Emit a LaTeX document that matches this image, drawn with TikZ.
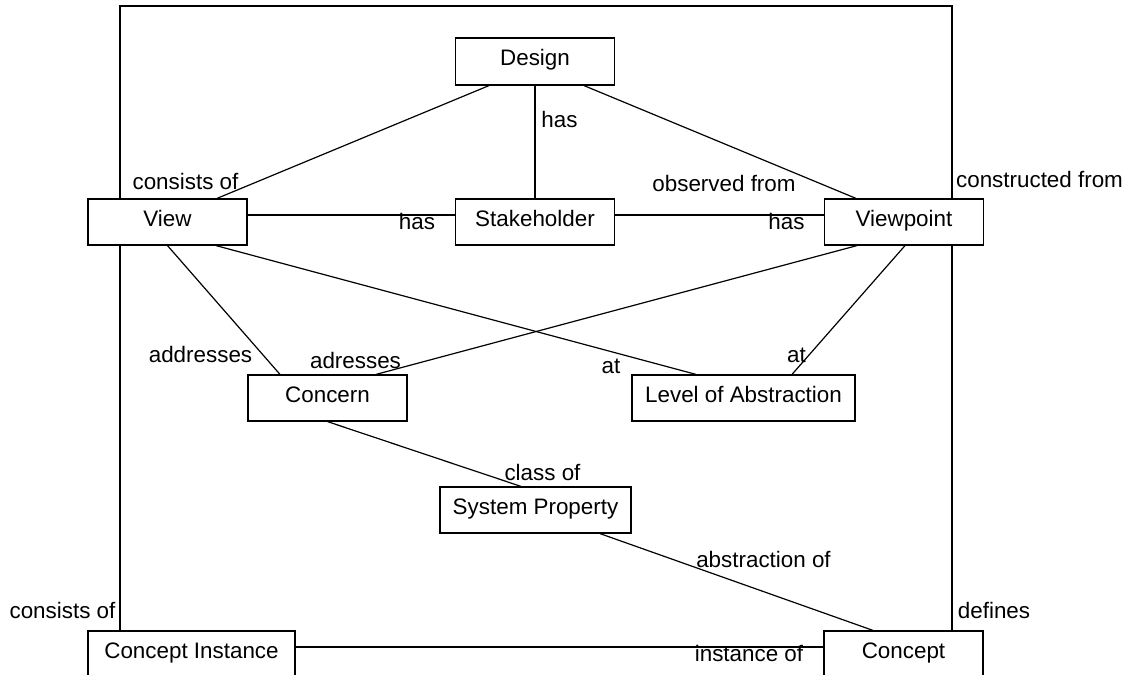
\documentclass[tikz,border=0pt]{standalone}
\usepackage{fontspec}
\setmainfont{Liberation Sans}
\usetikzlibrary{calc}

\begin{document}
\begin{tikzpicture}[x=0.5pt, y=0.5pt, line width=0.6pt,
  font=\fontsize{11.2}{13.4}\selectfont,
  entity/.style={draw, rectangle, minimum width=79.5pt, minimum height=23pt,
    text height=7pt, text depth=3pt, inner sep=0pt},
  role/.style={anchor=base, inner sep=0pt}]
\useasboundingbox (0,0) rectangle (1133,-674);

% entities
\node[entity, minimum height=23.5pt] (design) at (535,-61.5) {Design};
\node[entity] (stake) at (535,-222) {Stakeholder};
\node[entity] (view) at (167.5,-222) {View};
\node[entity] (vpoint) at (904,-222) {Viewpoint};
\node[entity] (concern) at (327.5,-398) {Concern};
\node[entity, minimum width=111.5pt] (level) at (743.5,-398) {Level of Abstraction};
\node[entity, minimum width=95.5pt] (sysprop) at (535.5,-510) {System Property};
\node[entity, minimum width=103.5pt] (cinst) at (191.5,-654) {Concept Instance};
\node[entity] (concept) at (903.5,-654) {Concept};

% relations between entities
\draw ($(design.south)+(-46,0)$) -- ($(view.north)+(49.5,0)$);
\draw (design.south) -- (stake.north);
\draw ($(design.south)+(49,0)$) -- ($(vpoint.north)+(-48,0)$);
\draw ($(view.east)+(0,7)$) -- ($(stake.west)+(0,7)$);
\draw ($(stake.east)+(0,7)$) -- ($(vpoint.west)+(0,7)$);
\draw (view.south) -- ($(concern.north)+(-47.5,0)$);
\draw ($(view.south)+(48.5,0)$) -- ($(level.north)+(-47.5,0)$);
\draw ($(vpoint.south)+(-47,0)$) -- ($(concern.north)+(48.5,0)$);
\draw ($(vpoint.south)+(1,0)$) -- ($(level.north)+(48.5,0)$);
\draw (concern.south) -- ($(sysprop.north)+(-14.5,0)$);
\draw ($(sysprop.south)+(64.5,0)$) -- ($(concept.north)+(-30.5,0)$);
\draw ($(cinst.east)+(0,7)$) -- ($(concept.west)+(0,7)$);

% outer frame
\coordinate (top) at (0,-6);
\coordinate (vtop) at ($(view.north)+(-47.5,0)$);
\coordinate (vptop) at ($(vpoint.north)+(48,0)$);
\draw (vtop) -- (vtop |- top) -- (vptop |- top) -- (vptop);
\draw ($(view.south)+(-47.5,0)$) -- ($(cinst.north)+(-71.5,0)$);
\draw ($(vpoint.south)+(48,0)$) -- ($(concept.north)+(48.5,0)$);

% role names
\node[role] (consview) at (185.5,-189) {consists of};
\node[role] (hasdesign) at (559.5,-127) {has};
\node[role] (observed) at (724,-191) {observed from};
\node[role] (constructed) at (1039.5,-187) {constructed from};
\node[role] (hasstake) at (417,-229) {has};
\node[role] (hasvpoint) at (786.5,-229) {has};
\node[role] (addrview) at (200.5,-362) {addresses};
\node[role] (addrvpoint) at (355.5,-368) {adresses};
\node[role] (atview) at (611,-373) {at};
\node[role] (atvpoint) at (796.5,-362) {at};
\node[role] (classof) at (542.5,-480) {class of};
\node[role] (abstrof) at (763.5,-567) {abstraction of};
\node[role] (conscinst) at (62.5,-618) {consists of};
\node[role] (defines) at (994,-618) {defines};
\node[role] (instof) at (749,-661) {instance of};
\end{tikzpicture}
\end{document}
